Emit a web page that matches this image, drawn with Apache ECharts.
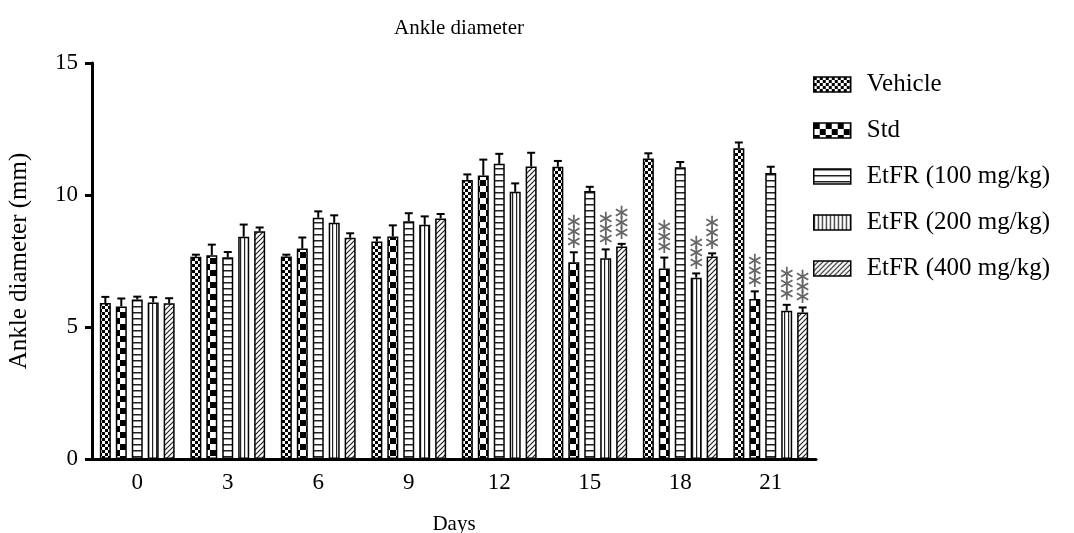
<!DOCTYPE html>
<html>
<head>
<meta charset="utf-8">
<script src="https://cdn.jsdelivr.net/npm/echarts@6/dist/echarts.min.js"></script>
<style>
    html, body { margin: 0; padding: 0; background: #fff; }
    #chart { width: 1074px; height: 533px; }
</style>
</head>
<body>
<div id="chart"></div>
<script>
// days on the x axis
const days = ['0', '3', '6', '9', '12', '15', '18', '21'];

// mean ankle diameter (mm) and the upper error (SEM) per group
const vehicle    = [5.91, 7.66, 7.67, 8.24, 10.57, 11.07, 11.38, 11.77];
const vehicleErr = [0.23, 0.08, 0.07, 0.15, 0.21, 0.22, 0.20, 0.22];
const std        = [5.78, 7.72, 7.97, 8.43, 10.74, 7.45, 7.22, 6.06];
const stdErr     = [0.30, 0.40, 0.42, 0.42, 0.60, 0.38, 0.41, 0.29];
const etfr100    = [6.04, 7.64, 9.14, 9.01, 11.18, 10.15, 11.05, 10.83];
const etfr100Err = [0.11, 0.20, 0.24, 0.30, 0.38, 0.16, 0.20, 0.24];
const etfr200    = [5.93, 8.42, 8.95, 8.87, 10.12, 7.60, 6.87, 5.62];
const etfr200Err = [0.20, 0.46, 0.28, 0.32, 0.32, 0.34, 0.16, 0.22];
const etfr400    = [5.90, 8.63, 8.38, 9.11, 11.08, 8.05, 7.67, 5.55];
const etfr400Err = [0.19, 0.14, 0.17, 0.17, 0.52, 0.10, 0.12, 0.19];

// number of asterisks above each bar
const vehicleStars = [0, 0, 0, 0, 0, 0, 0, 0];
const stdStars     = [0, 0, 0, 0, 0, 3, 3, 3];
const etfr100Stars = [0, 0, 0, 0, 0, 0, 0, 0];
const etfr200Stars = [0, 0, 0, 0, 0, 3, 3, 3];
const etfr400Stars = [0, 0, 0, 0, 0, 3, 3, 3];

const names = ['Vehicle', 'Std', 'EtFR (100 mg/kg)', 'EtFR (200 mg/kg)', 'EtFR (400 mg/kg)'];
const means = [vehicle, std, etfr100, etfr200, etfr400];
const errs  = [vehicleErr, stdErr, etfr100Err, etfr200Err, etfr400Err];
const stars = [vehicleStars, stdStars, etfr100Stars, etfr200Stars, etfr400Stars];

const FONT = '"Liberation Serif", "Times New Roman", serif';
const BAR_W = 11;
const BAR_STEP = BAR_W * 1.45;

function makePattern(w, h, draw) {
    let c = document.createElement('canvas');
    c.width = w;
    c.height = h;
    let ctx = c.getContext('2d');
    ctx.fillStyle = '#fff';
    ctx.fillRect(0, 0, w, h);
    draw(ctx);
    return { image: c, repeat: 'repeat' };
}

let patterns = [
    // fine checker
    makePattern(6, 6, function (ctx) {
        ctx.fillStyle = '#000';
        ctx.fillRect(0, 0, 3, 3);
        ctx.fillRect(3, 3, 3, 3);
    }),
    // coarse checker
    makePattern(12, 12, function (ctx) {
        ctx.fillStyle = '#000';
        ctx.fillRect(0, 0, 6, 6);
        ctx.fillRect(6, 6, 6, 6);
    }),
    // horizontal lines
    makePattern(4, 6, function (ctx) {
        ctx.fillStyle = '#222';
        ctx.fillRect(0, 0, 4, 1.5);
    }),
    // vertical lines
    makePattern(4, 4, function (ctx) {
        ctx.fillStyle = '#222';
        ctx.fillRect(0, 0, 1.2, 4);
    }),
    // diagonal hatch
    makePattern(5, 5, function (ctx) {
        ctx.strokeStyle = '#222';
        ctx.lineWidth = 1.2;
        ctx.beginPath();
        ctx.moveTo(-1, 6); ctx.lineTo(6, -1);
        ctx.moveTo(-1, 1); ctx.lineTo(1, -1);
        ctx.moveTo(4, 6); ctx.lineTo(6, 4);
        ctx.stroke();
    })
];

// error bar + asterisk items: [day index, series index, mean, err, stars]
let errData = [];
for (let s = 0; s < names.length; s++) {
    for (let i = 0; i < days.length; i++) {
        errData.push([i, s, means[s][i], errs[s][i], stars[s][i]]);
    }
}

function renderErr(params, api) {
    let cat = api.value(0), s = api.value(1), v = api.value(2), e = api.value(3), n = api.value(4);
    let base = api.coord([cat, v]);
    let top = api.coord([cat, v + e]);
    let x = base[0] + (s - 2) * BAR_STEP;
    let children = [
        { type: 'line', shape: { x1: x, y1: base[1], x2: x, y2: top[1] }, style: { stroke: '#000', lineWidth: 2 } },
        { type: 'line', shape: { x1: x - 4, y1: top[1], x2: x + 4, y2: top[1] }, style: { stroke: '#000', lineWidth: 2 } }
    ];
    for (let k = 0; k < n; k++) {
        children.push({
            type: 'text',
            style: {
                text: '\u2217',
                x: x,
                y: top[1] - 10 - k * 10,
                fill: '#666',
                font: '21px "DejaVu Sans"',
                align: 'center',
                verticalAlign: 'middle'
            }
        });
    }
    return { type: 'group', children: children };
}

let series = names.map(function (name, s) {
    return {
        name: name,
        type: 'bar',
        data: means[s],
        barWidth: BAR_W,
        barGap: '45%',
        itemStyle: { color: patterns[s], borderColor: '#000', borderWidth: 1.5 },
        emphasis: { disabled: true }
    };
});
series.push({
    name: 'err',
    type: 'custom',
    data: errData,
    renderItem: renderErr,
    z: 5,
    silent: true
});

let chart = echarts.init(document.getElementById('chart'), null, { renderer: 'canvas' });
chart.setOption({
    animation: false,
    backgroundColor: '#fff',
    title: {
        text: 'Ankle diameter',
        left: 454,
        textAlign: 'center',
        top: 13,
        textStyle: { fontFamily: FONT, fontSize: 21, fontWeight: 'normal', color: '#000' }
    },
    legend: {
        data: names,
        orient: 'vertical',
        left: 808,
        top: 67,
        itemWidth: 37,
        itemHeight: 15,
        itemGap: 21,
        icon: 'rect',
        itemStyle: { borderColor: '#000', borderWidth: 1.5 },
        textStyle: { fontFamily: FONT, fontSize: 25, color: '#000', padding: [0, 0, 0, 11] }
    },
    grid: { left: 92, right: 258, top: 63, bottom: 74, outerBoundsMode: 'none' },
    xAxis: {
        type: 'category',
        data: days,
        name: 'Days',
        nameLocation: 'middle',
        nameGap: 55,
        nameTextStyle: { fontFamily: FONT, fontSize: 21, color: '#000' },
        axisLine: { lineStyle: { color: '#000', width: 3 } },
        axisTick: { alignWithLabel: true, length: 7, lineStyle: { color: '#000', width: 3 } },
        axisLabel: { fontFamily: FONT, fontSize: 23, color: '#000', margin: 12 }
    },
    yAxis: {
        type: 'value',
        min: 0,
        max: 15,
        interval: 5,
        name: 'Ankle diameter (mm)',
        nameLocation: 'middle',
        nameGap: 60,
        nameTextStyle: { fontFamily: FONT, fontSize: 25, color: '#000' },
        splitLine: { show: false },
        axisLine: { show: true, lineStyle: { color: '#000', width: 3 } },
        axisTick: { show: true, length: 7, lineStyle: { color: '#000', width: 3 } },
        axisLabel: { fontFamily: FONT, fontSize: 23, color: '#000', margin: 14 }
    },
    series: series
});
</script>
</body>
</html>
